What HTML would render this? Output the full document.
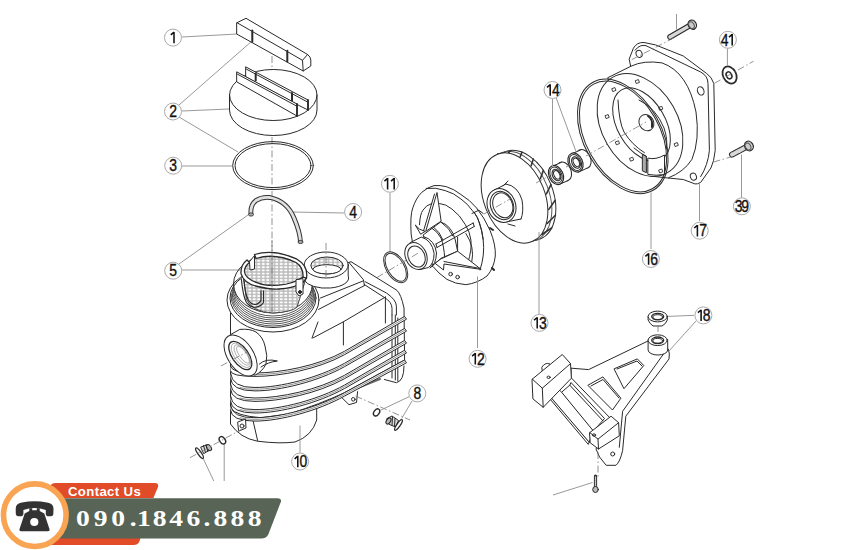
<!DOCTYPE html>
<html><head><meta charset="utf-8">
<style>
html,body{margin:0;padding:0;background:#fff;width:850px;height:550px;overflow:hidden;}
svg{position:absolute;left:0;top:0;}
.l{fill:none;stroke:#2a2a2a;stroke-width:1;stroke-linejoin:round;stroke-linecap:round;}
.t{fill:none;stroke:#999;stroke-width:1;}
.d{fill:none;stroke:#777;stroke-width:0.8;stroke-dasharray:7 2.5 1.5 2.5;}
.w{fill:#fff;stroke:#2a2a2a;stroke-width:1;stroke-linejoin:round;}
.b circle{fill:#fff;stroke:#aaa;stroke-width:1;}
.b .one{fill:none;stroke:#111;stroke-width:1.55;stroke-linecap:butt;stroke-linejoin:miter;}
.b text{font-family:"Liberation Sans",sans-serif;font-size:16px;fill:#111;stroke:#111;stroke-width:0.35;text-anchor:middle;}
#badge{position:absolute;left:0;top:0;}
</style></head>
<body>
<svg width="850" height="550" viewBox="0 0 850 550">
<!-- leaders -->
<g class="t">
  <path d="M182 37 L237 34"/>
  <path d="M179 105 L252 41"/>
  <path d="M182 111 L229 109"/>
  <path d="M179 117 L238 152"/>
  <path d="M182 166 L232 166"/>
  <path d="M344 213 L292 212"/>
  <path d="M179 264 L248 215"/>
  <path d="M182 270 L240 270"/>
  <path d="M390 193 L390 252"/>
</g>
<!-- axis lines -->
<g class="d">
  <path d="M272 56 L272 255"/>
</g>
<!-- part 1 bar -->
<g class="l">
  <path class="w" d="M237 22.7 L246 18.3 L307.6 54.5 Q310.8 57 310.8 60 L310.8 66 L303.2 71 L237 34.2 Z"/>
  <path d="M237 22.7 L302.5 60.3 L303.2 71 M302.5 60.3 L307.6 54.5"/>
  <path d="M252.3 30.4 L252.3 41.8 M287.3 50.7 L287.3 61.5" style="stroke-width:2"/>
</g>
<!-- part 2 cap -->
<g class="l">
  <path class="w" d="M229.5 95 L229.5 110 A43.7 25.5 0 0 0 317 110 L317 95 A43.7 25.5 0 0 0 229.5 95 Z"/>
  <path d="M229.5 95 A43.7 25.5 0 0 0 317 95"/>
  <path class="w" d="M246 67 L308 100 L308 110 L300 106 L246 77 Z"/>
  <path d="M246.5 69.2 L307.5 102"/>
  <path d="M255.7 73.5 L255.7 80.5 M292 93 L292 100.5" style="stroke-width:2"/>
  <path d="M308 100 L308 110" style="stroke-width:1.8"/>
  <path class="w" d="M237 72 L297 104 L297 116 L237 82 Z"/>
  <path d="M237.5 74.2 L296.5 106"/>
  <path d="M297 104 L297 116" style="stroke-width:1.8"/>
</g>
<!-- ring 3 -->
<g class="l">
  <ellipse cx="273" cy="165.6" rx="40.3" ry="24"/>
  <ellipse cx="273" cy="165.6" rx="38" ry="22"/>
</g>
<!-- hook 4 -->
<g>
  <path d="M251 214.5 Q250 205 256 200.5 Q262 196.5 270 197.5 Q287 201 294 218 Q300 232 300.5 242" style="fill:none;stroke:#333;stroke-width:4.8;stroke-linecap:butt"/>
  <path d="M251 214.5 Q250 205 256 200.5 Q262 196.5 270 197.5 Q287 201 294 218 Q300 232 300.5 242" style="fill:none;stroke:#e0e0e0;stroke-width:2.8;stroke-linecap:butt"/>
  <ellipse cx="251" cy="214.5" rx="2.5" ry="1.6" style="fill:#aaa;stroke:#333;stroke-width:0.9"/>
  <ellipse cx="300.5" cy="242" rx="2.5" ry="1.6" style="fill:#aaa;stroke:#333;stroke-width:0.9"/>
</g>
<!-- pump body 10 -->
<g class="l">
  <!-- skirt -->
  <path class="w" d="M230.5 400 L230.5 424 Q240 438 257.4 441.2 Q280 444 295 442 Q312 436 316.7 420 L316.7 400 Z"/>
  <path d="M250.6 410 L257.6 440.6"/>
  <!-- main body silhouette -->
  <path class="w" d="M230.5 300 L230.5 408 Q236 416 261 417.7 L289 414 Q320 404 344.5 392.7 L404.6 360 L404 308 Q401 294 396.9 290.3 L351 261.7 L304 278 Z"/>
  <!-- right lip -->
  <path d="M349 262.5 L363.5 279.8 L364.4 285.6"/>
  <path d="M365.4 281.8 L386.6 293.1 Q396.4 300 396.4 306.2 L396.4 315"/>
  <path d="M364.4 284.6 L384.4 297.5 Q392 302 392 308.4 L392 315"/>
  <path d="M392 315 L392 378 M395.3 315 L395.3 380 M397.8 318 L397.8 381"/>
  <!-- plateau -->
  <path d="M320.5 298 L363.5 280.8 M318.6 309.4 L364.4 285.6"/>
  <path d="M385.4 297 L343.4 321.8 L343.4 345 M343.4 321.8 L312.9 338 M385.4 297 L385.4 323"/>
  <path d="M318 322 L312 338"/>
  <!-- bottom foot & tab -->
  <path d="M404 366 Q404 381 396.4 382.7 L384.4 379.5"/>
  <path class="w" d="M340.2 396 L349 404.7 L356.5 402.5 L357.6 391.6"/>
  <circle cx="353.3" cy="399.3" r="1.8" class="l"/>
  <path d="M345 393 L380 379" style="stroke-width:2;stroke:#666"/>
  <!-- ribs -->
  <path class="w" d="M230.5 366 Q232 373.5 255 373 C280 373 318 366.0 344.5 351.3 L404.6 316.4 L406.5 319.19999999999993 L344.5 354.7 C318 369.4 280 376.4 255 376.4 Q231 376.4 230.5 371"/>
  <path d="M240 373.1 Q245 374.8 255 374.7 C280 374.7 318 367.7 344.5 353.0 L405 318.09999999999997" style="stroke:#666;stroke-width:0.7"/>
  <path class="w" d="M230.5 373 Q232 388.0 255 387.5 C280 387.5 318 378.0 344.5 363.3 L404.6 328.4 L406.5 331.19999999999993 L344.5 366.7 C318 381.4 280 390.9 255 390.9 Q231 390.9 230.5 378"/>
  <path d="M240 387.6 Q245 389.3 255 389.2 C280 389.2 318 379.7 344.5 365.0 L405 330.09999999999997" style="stroke:#666;stroke-width:0.7"/>
  <path class="w" d="M230.5 384 Q232 398.5 255 398 C280 398 318 390.0 344.5 375.3 L404.6 340.4 L406.5 343.19999999999993 L344.5 378.7 C318 393.4 280 401.4 255 401.4 Q231 401.4 230.5 389"/>
  <path d="M240 398.1 Q245 399.8 255 399.7 C280 399.7 318 391.7 344.5 377.0 L405 342.09999999999997" style="stroke:#666;stroke-width:0.7"/>
  <path class="w" d="M230.5 396 Q232 410.1 255 409.6 C280 409.6 318 399.8 344.5 385.1 L404.6 350.2 L406.5 352.99999999999994 L344.5 388.5 C318 403.2 280 413.0 255 413.0 Q231 413.0 230.5 401"/>
  <path d="M240 409.70000000000005 Q245 411.40000000000003 255 411.3 C280 411.3 318 401.5 344.5 386.8 L405 351.9" style="stroke:#666;stroke-width:0.7"/>
  <path class="w" d="M230.5 405 Q232 418.2 255 417.7 C280 417.7 318 407.4 344.5 392.7 L404.6 360 L406.5 362.79999999999995 L344.5 396.09999999999997 C318 410.79999999999995 280 421.09999999999997 255 421.09999999999997 Q231 421.09999999999997 230.5 410"/>
  <path d="M240 417.8 Q245 419.5 255 419.4 C280 419.4 318 409.09999999999997 344.5 394.4 L405 361.7" style="stroke:#666;stroke-width:0.7"/>
  <!-- neck -->
  <ellipse class="w" cx="273" cy="300" rx="46" ry="32"/>
  <ellipse cx="273" cy="298" rx="43" ry="29.5"/>
  <g style="stroke:#444;stroke-width:0.9">
  <path d="M231 296 A42 30 0 0 0 315 296"/>
  <path d="M231.5 294 A41.5 30 0 0 0 314.5 294"/>
  <path d="M232 292 A41 30 0 0 0 314 292"/>
  <path d="M232.5 290 A40.5 30 0 0 0 313.5 290"/>
  <path d="M233 288 A40 30 0 0 0 313 288"/>
  <path d="M233.5 286 A39.5 30 0 0 0 312.5 286"/>
  </g>
  <ellipse class="w" cx="273" cy="284" rx="39.5" ry="29" style="fill:none"/>
  <!-- outlet port -->

  <path class="w" d="M304.3 265 L304.3 280 A22 10 0 0 0 348.2 276 L348.2 265 Z"/>
  <ellipse class="w" cx="326.2" cy="265" rx="22" ry="13"/>
  <ellipse cx="327" cy="265.5" rx="16.2" ry="8.5" style="fill:url(#mesh)"/>
  <ellipse cx="327" cy="269.3" rx="14" ry="4.6" style="fill:#fff"/>
  <!-- inlet port -->
  <path class="w" d="M231.1 334.3 L239.8 329.4 Q250 328.5 256 332 Q263 337 265 346 Q268 356 266 364 Q262 372 255 375.2 L246 372 L236 340 Z"/>
  <ellipse class="w" cx="240.6" cy="355.5" rx="12.9" ry="23" transform="rotate(-33 240.6 355.5)"/>
  <ellipse cx="240.3" cy="355.5" rx="8.2" ry="16.3" transform="rotate(-35 240.3 355.5)" style="stroke-width:1.3"/>
  <g style="stroke:#999;stroke-width:0.7">
  <ellipse cx="241" cy="355.3" rx="6.6" ry="14.2" transform="rotate(-35 241 355.3)"/>
  <ellipse cx="242" cy="355" rx="5" ry="12" transform="rotate(-35 242 355)"/>
  <ellipse cx="243" cy="354.7" rx="3.6" ry="10" transform="rotate(-35 243 354.7)"/>
  </g>
  <path d="M259.4 364 Q266 358 277.4 361 Q268 362 261 367" />
  <!-- left drain boss -->
  <path class="w" d="M238 422 L245.5 419 L246 428 L239 431 Z"/>
  <circle cx="242" cy="426" r="2"/>
</g>
<!-- basket 5 -->
<defs>
<pattern id="mesh" width="4.5" height="3.2" patternUnits="userSpaceOnUse">
<rect width="4.5" height="3.2" fill="#bdbdbd"/>
<ellipse cx="2.25" cy="1.6" rx="1.7" ry="1.05" fill="#fff"/>
</pattern>
</defs>
<g class="l">
  <path d="M243 272 L246.3 299 Q252 312 273 313 Q292 312 297 307.2 L305.2 281 L306 277.7 Q300 256 274 252.4 Q250 254 243 272 Z" style="fill:url(#mesh);stroke:#444"/>
  <path d="M272 256 L272 313" style="stroke:#888;stroke-width:0.8"/>
  <path d="M254.5 254.5 Q274 248.5 297 259.2 Q308.5 266 306.5 278 L302.5 281.5 Q305 268 296 262.5 Q275 252.5 256 258.5 Z" class="w" style="stroke-width:1.3"/>
  <path d="M247 260 Q240.5 265 241 273.6 Q244 283.5 257.7 286.5 Q270 289.5 279 289 Q293 288.5 303 282.5 L306.5 278 L303 277 Q293 284 279 285.2 Q265 286 257.7 282.8 Q245.5 279 244.5 272 Q244.3 266 249.5 262.5 Z" class="w" style="stroke-width:1.3"/>
  <path class="w" d="M249.5 262 L250 270 L254.5 269 L254.5 256 Z" style="fill:#fff"/>
  <path d="M241.4 279.4 Q243 296 246.3 302.3 Q251 308 256 307.2 Q262 306 263.5 302.3 L263.5 290.8" style="stroke-width:1.1"/>
  <path d="M243.8 279.4 Q245 294 248.5 300.3 Q251.5 305 256 304.5 Q260 303 261 300.3 L261 290.8" style="stroke-width:1.1"/>
  <path class="w" d="M296 280 L296 292 L299 296 L303 294 L303 279 Z"/>
  <circle cx="300" cy="292" r="1.5" style="fill:#222"/>
</g>
<!-- o-ring 11 -->
<g class="l" style="stroke:#333">
  <ellipse cx="395.7" cy="267.3" rx="9.7" ry="17" transform="rotate(-30.7 395.7 267.3)"/>
  <ellipse cx="395.7" cy="267.3" rx="8.3" ry="15.5" transform="rotate(-30.7 395.7 267.3)"/>
</g>
<!-- diffuser 12 -->
<g class="l">
  <path class="w" d="M411.1 233.6 Q410 215 412.8 207.9 Q416 198 421.8 192.3 Q428 187 434 185.6 Q440 185 446.4 186.7 Q454 189 460.9 194.5 Q470 200 476.5 207.9 Q484 217 490 230.3 Q496 245 495.3 256 Q494 268 487 276 Q478 283 465.9 284.7 Q455 284 447 279.4 Q438 273 433 266.5 L416 262 Z"/>
  <path d="M426.2 188.4 Q436 187 445.2 190.6 Q454 193 460.9 199 Q468 204 472 210.2 Q478 217 478.8 221.4 Q482 230 483.2 240 Q485 255 480 270"/>
  <path d="M474.3 212.4 Q481 222 483.2 239.2"/>
  <path d="M472 213.5 L478.8 210.2 L483.2 213.5"/>
  <path d="M465.9 233.5 Q475 247 471.8 261.8"/>
  <path d="M419.5 224.7 Q420 214 422.9 210.2 Q426 205 431.8 203.5 M439.6 203.5 Q446 204 451.9 209 Q460 215 465.4 224.7 Q470 232 470.9 240 Q472 250 468 262"/>
  <!-- top vane -->
  <path class="w" d="M436.9 192.9 L425.7 231.4 L440.8 221.4 Z"/>
  <path d="M434.5 194 L423.5 231"/>
  <path class="w" d="M415.6 225.3 L419.5 229.2 L425.1 231.4 L421 234 Z"/>
  <!-- cone -->
  <path class="w" d="M423.5 234.7 L440.8 221.9 Q452 226 455.3 240 L457.6 251.2 L441.2 258.2 L433 265.3 Z"/>
  <path d="M431.8 228.1 Q437.4 231.4 441 238 Q444 246 444.7 258"/>
  <path d="M433.5 227 Q440 232 443 240"/>
  <path d="M440.8 221.9 Q449.7 228.1 453 236"/>
  <path d="M457.6 237.1 L457.6 251.2"/>
  <!-- pin -->
  <path d="M436 244 L473.2 223 M437 247.5 L474.2 226.5" />
  <path d="M473.2 223 L474.2 226.5 M436 244 L437 247.5"/>
  <!-- lower vane -->
  <path class="w" d="M441.2 258.8 L457.6 251.2 L481.2 269.4 L444 264 L443.5 270 L435.3 263.5 Z"/>
  <path d="M444 261.5 L480 268.5"/>
  <!-- nozzle -->
  <path class="w" d="M410.6 242.4 L421.2 237.1 Q432 240 434.1 253.5 Q434 264 428.2 267.6 L420.6 269.4 Z"/>
  <path d="M423.5 236.5 Q435 240 436.5 253 Q436 265 430 268"/>
  <ellipse class="w" cx="416" cy="256" rx="10.5" ry="14" transform="rotate(-25 416 256)"/>
  <ellipse cx="416.5" cy="256.5" rx="8.2" ry="11" transform="rotate(-25 416.5 256.5)"/>
  <circle cx="450.6" cy="274.1" r="1.8"/><circle cx="457.6" cy="277.1" r="1.8"/>
  <path d="M484 197 L486 199 M492 268 L494 270 M490 228 L493 230" style="stroke-width:2"/>
</g>
<!-- impeller 13 -->
<g class="l">
  <ellipse class="w" cx="522.5" cy="195.5" rx="30.5" ry="47" transform="rotate(-22 522.5 195.5)"/>
  <ellipse cx="518.5" cy="196.5" rx="30.5" ry="47" transform="rotate(-22 518.5 196.5)" style="stroke:#555"/>
  <path d="M489.3 160.5 L493.3 163.0 M497.9 153.9 L500.6 154.3 M508.6 152.6 L510.5 150.6 M520.2 156.8 L521.9 152.2 M531.2 165.8 L533.3 159.1 M540.3 178.7 L543.4 170.4 M546.4 193.8 L551.0 184.7 M548.8 209.4 L555.2 200.3 M547.2 223.5 L555.4 215.3 M541.7 234.5 L551.7 228.0 " style="stroke-width:1.6;stroke:#333"/>
  <ellipse class="w" cx="514.5" cy="198" rx="30.5" ry="47" transform="rotate(-22 514.5 198)"/>
  <path class="w" d="M493 190.8 L506 184 Q521 188 523 207 L521 219 L506 222 Z" style="stroke:none"/>
  <path d="M493 190.8 L506 184 M521 219 L506 222"/>
  <path d="M506 184 Q518 186 522 200 Q524 212 521 219"/>
  <path d="M503 186 L508 181" />
  <path d="M508 224 L515 226" />
  <ellipse class="w" cx="501.5" cy="205.5" rx="14" ry="17.3" transform="rotate(-22 501.5 205.5)"/>
  <ellipse cx="502" cy="205.5" rx="11.3" ry="14.5" transform="rotate(-22 502 205.5)"/>
  <ellipse cx="502.8" cy="205.3" rx="9.6" ry="12.8" transform="rotate(-22 502.8 205.3)"/>
</g>
<!-- bearings 14 -->
<g class="l">
  <ellipse class="w" cx="564" cy="171.5" rx="7" ry="10" transform="rotate(-25 564 171.5)"/>
  <path class="w" d="M553.5 165.8 L561.5 162.3 L567 181.0 L559 184.5 Z" style="stroke:none"/>
  <path d="M553.5 165.8 L561.5 162.3 M559 184.5 L567 181.0"/>
  <ellipse class="w" cx="556" cy="175" rx="7" ry="10" transform="rotate(-25 556 175)" style="stroke-width:1.2"/>
  <ellipse cx="556" cy="175" rx="5.6" ry="8.4" transform="rotate(-25 556 175)"/>
  <ellipse cx="556.5" cy="175" rx="4" ry="6" transform="rotate(-25 556.5 175)" style="stroke-width:1.1"/>
  <ellipse cx="556.8" cy="174.8" rx="2.8" ry="4.5" transform="rotate(-25 556.8 174.8)"/>
  <ellipse class="w" cx="583.5" cy="159.0" rx="7" ry="10" transform="rotate(-25 583.5 159.0)"/>
  <path class="w" d="M573.0 153.3 L581.0 149.8 L586.5 168.5 L578.5 172.0 Z" style="stroke:none"/>
  <path d="M573.0 153.3 L581.0 149.8 M578.5 172.0 L586.5 168.5"/>
  <ellipse class="w" cx="575.5" cy="162.5" rx="7" ry="10" transform="rotate(-25 575.5 162.5)" style="stroke-width:1.2"/>
  <ellipse cx="575.5" cy="162.5" rx="5.6" ry="8.4" transform="rotate(-25 575.5 162.5)"/>
  <ellipse cx="576.0" cy="162.5" rx="4" ry="6" transform="rotate(-25 576.0 162.5)" style="stroke-width:1.1"/>
  <ellipse cx="576.3" cy="162.3" rx="2.8" ry="4.5" transform="rotate(-25 576.3 162.3)"/>
</g>
<!-- flange 17 -->
<g class="l">
  <path class="w" d="M629.3 58.8 L633.4 48.2 Q637 42 644 42.5 L655.5 44.9 L683.3 56 L706.5 73.4 Q712 77 713.8 83.6 L715.2 150.5 Q714 162 710.9 168 L700.7 182.4 Q697 184.5 694.9 183.9 L683.3 179.5 L668 178 L640 110 Z"/>
  <path d="M635 50.2 Q640 44 646 45.7 L700.7 72 Q708 76 708 83.6 L709.4 150.5 Q708 165 700.7 176.6"/>
  <ellipse cx="639.1" cy="53.9" rx="3" ry="3.6" transform="rotate(-20 639.1 53.9)"/>
  <ellipse cx="700.7" cy="90.9" rx="3.2" ry="4.3" transform="rotate(-20 700.7 90.9)"/>
  <ellipse cx="693.4" cy="176.6" rx="3" ry="3.6" transform="rotate(-20 693.4 176.6)"/>
  <!-- housing cylinder -->
  <path class="w" d="M608 77.6 L631 66.2 Q644 60 662 62.9 Q688 72 696 112 Q700 140 692 159.2 Q684 172 668 178 L650 176 Z" />
  <ellipse class="w" cx="640" cy="125" rx="38" ry="55" transform="rotate(-30 640 125)"/>
  <ellipse cx="641.5" cy="124.5" rx="24" ry="40" transform="rotate(-30 641.5 124.5)"/>
  <path d="M618 100 Q619 122 624 132 Q632 145 644.5 152.7"/>
  <path d="M639 100 Q656 108 664 128 Q668 140 666.4 149"/>
  <ellipse class="w" cx="646.4" cy="122.7" rx="7.2" ry="8.4" transform="rotate(-30 646.4 122.7)"/>
  <path d="M648 116 Q653 119 652 127" style="stroke-width:2"/>
  <path class="w" d="M642.7 154.5 L646.4 156.4 L646.4 172.7 L642.7 171 Z" style="fill:#aaa"/>
  <path class="w" d="M648.2 158.2 Q656 160 664.5 155 L664.5 174.5 Q656 176 648.2 174.5 Z"/>
  <path d="M646.4 156.4 Q640 153 634 148"/>
  <g style="stroke-width:0.8">
  <rect x="605.8" y="115" width="3" height="3" transform="rotate(-20 607.3 116.5)"/>
  <rect x="616.1" y="141.2" width="3" height="3" transform="rotate(-20 617.6 142.7)"/>
  <rect x="630.3" y="157.6" width="3" height="3" transform="rotate(-20 631.8 159.1)"/>
  <rect x="659.4" y="169.4" width="3" height="3" transform="rotate(-20 660.9 170.9)"/>
  <rect x="674.9" y="143" width="3" height="3" transform="rotate(-20 676.4 144.5)"/>
  <rect x="659.4" y="106.7" width="3" height="3" transform="rotate(-20 660.9 108.2)"/>
  <rect x="612.5" y="88" width="3" height="3" transform="rotate(-20 614 89.5)"/>
  <rect x="636" y="80" width="3" height="3" transform="rotate(-20 637.5 81.5)"/>
  </g>
</g>
</g>
<!-- o-ring 16 -->
<g class="l">
  <ellipse cx="622.8" cy="136.4" rx="38.7" ry="61.8" transform="rotate(-29.3 622.8 136.4)"/>
  <ellipse cx="623" cy="136.4" rx="36.9" ry="60" transform="rotate(-29.3 623 136.4)"/>
</g>
<!-- bolts 39, washer 41 -->
<g class="l">
  <path d="M670 37 L689 26" style="stroke:#2a2a2a;stroke-width:5.5;stroke-linecap:round"/>
  <path d="M670 37 L689 26" style="stroke:#d8d8d8;stroke-width:3.5;stroke-linecap:round;stroke-dasharray:1 1"/>
  <ellipse class="w" cx="692.3" cy="24.7" rx="4" ry="4.8" transform="rotate(-30 692.3 24.7)" style="fill:#ccc;stroke-width:1.2"/>
  <ellipse cx="691.5" cy="25.2" rx="2.5" ry="3.5" transform="rotate(-30 691.5 25.2)" style="stroke:#555"/>
  <ellipse cx="729.6" cy="75" rx="6.5" ry="9" transform="rotate(-28 729.6 75)" style="stroke-width:1.8;fill:#fff"/>
  <ellipse cx="729" cy="75.3" rx="2.6" ry="3.6" transform="rotate(-28 729 75.3)" style="stroke-width:1.6"/>
  <path d="M732 154.6 L746 147.2" style="stroke:#2a2a2a;stroke-width:6;stroke-linecap:round"/>
  <path d="M732 154.6 L746 147.2" style="stroke:#d8d8d8;stroke-width:4;stroke-linecap:round;stroke-dasharray:1 1"/>
  <ellipse class="w" cx="748.9" cy="146" rx="4.2" ry="5" transform="rotate(-30 748.9 146)" style="fill:#ccc;stroke-width:1.2"/>
  <ellipse cx="748" cy="146.5" rx="2.6" ry="3.6" transform="rotate(-30 748 146.5)" style="stroke:#555"/>
</g>
<!-- bracket 18 -->
<g class="l">
  <!-- plate -->
  <path class="w" d="M571.4 368.2 L588.6 369.6 L648 341 L668.4 349.1 Q670 354 669 359 L625.8 416.2 L622.6 450.6 Q620 462 616 465.3 L606.2 465.3 L599.6 457.1 L596 449 L612 420 L571.4 378 Z"/>
  <path d="M663.5 354 L622.6 411.3 L619.3 447.3"/>
  <path class="w" d="M588.2 385.1 L602.9 376.9 L620.9 398.2 L612.7 409.7 Z"/>
  <path d="M591 386 L603 379.5 L619 398"/>
  <path class="w" d="M614.4 368.7 L637.3 358.9 L643.8 365.5 L624.2 388.4 Z"/>
  <path d="M617 369 L637 361 L642 366"/>
  <circle cx="612.7" cy="454" r="2"/>
  <!-- rails -->
  <path class="w" d="M561.6 392.2 L569.8 385.2 L571 382.5 L604.5 418.5 L593.4 431 Z"/>
  <path d="M569.8 385.2 L603 420.9"/>
  <path class="w" d="M550.1 396.7 L558.4 389 L561.6 392.2 L593.4 431 L589 442.5 Z"/>
  <path class="w" d="M550.1 396.7 L550.7 399.8 L588.3 444.4 L589 442.5 Z"/>
  <!-- left block -->
  <path class="w" d="M542 367 Q545 362 550 364 L550 372 L543 374 Z"/>
  <path class="w" d="M532.3 379.1 L562.3 354.5 L570.5 363.6 L571.4 378.2 L543.2 407.3 L533.2 399.1 Z"/>
  <path d="M532.3 379.1 L542.3 388.2 L570.5 363.6 M542.3 388.2 L543.2 407.3"/>
  <ellipse cx="548.6" cy="377.3" rx="1.6" ry="1.2"/>
  <!-- right block -->
  <path class="w" d="M589.8 432.6 L611.1 416.2 L618.6 422.7 L619.3 435.8 L598.5 449 L590.5 443 Z"/>
  <path d="M589.8 432.6 L598 439.1 L618.6 422.7 M598 439.1 L598.5 449"/>
  <ellipse cx="594" cy="435" rx="1.6" ry="1.2"/>
  <!-- boss + grommet -->
  <path class="w" d="M648.1 340 L648.1 350 A9.8 5 0 0 0 667.7 350 L667.7 340 Z"/>
  <ellipse class="w" cx="657.7" cy="340.2" rx="9.6" ry="5.4"/>
  <ellipse cx="657.7" cy="340.3" rx="6" ry="3.3" style="stroke-width:1.3"/>
  <ellipse cx="657.7" cy="340.8" rx="4.8" ry="2.4"/>
  <path class="w" d="M648.1 316.5 L648.1 320 Q650 324 653 326 L662 326 Q666 324 667.3 320 L667.3 316.5 Z"/>
  <ellipse class="w" cx="657.7" cy="316.5" rx="9.6" ry="5.4"/>
  <ellipse cx="657.7" cy="316.6" rx="6" ry="3.3" style="stroke-width:1.3"/>
  <ellipse cx="657.7" cy="317.1" rx="4.8" ry="2.4"/>
  <!-- screw -->
  <path d="M595.5 476 L595.5 487" style="stroke:#2a2a2a;stroke-width:3.2;stroke-linecap:round"/>
  <path d="M595.5 477 L595.5 487" style="stroke:#ccc;stroke-width:1.4;stroke-dasharray:1 1"/>
  <ellipse class="w" cx="595.5" cy="489.5" rx="2.8" ry="3" style="fill:#bbb"/>
</g>
<!-- drain plugs 8 -->
<g class="l">
  <ellipse cx="376.6" cy="412.4" rx="2.6" ry="3.9" transform="rotate(35 376.6 412.4)" style="stroke-width:1.4"/>
  <path class="w" d="M387 418.5 L392 416 L398.5 420.5 L395.5 427 L389.5 424.5 Z" style="fill:#ddd"/>
  <ellipse cx="388.5" cy="421" rx="2" ry="3.4" transform="rotate(35 388.5 421)" style="fill:#bbb"/>
  <path d="M392.5 417 L392 425.5 M395 418.5 L394.5 426.5"/>
  <ellipse class="w" cx="398.5" cy="425" rx="1.7" ry="6.3" transform="rotate(35 398.5 425)" style="stroke-width:1.3"/>
  <ellipse cx="222.4" cy="440.3" rx="2.7" ry="4" transform="rotate(-35 222.4 440.3)" style="stroke-width:1.4"/>
  <path class="w" d="M201 447 L207.5 444.6 L210.5 449.5 L204 453.5 Z" style="fill:#ddd"/>
  <ellipse cx="209" cy="447.6" rx="2" ry="3.4" transform="rotate(-35 209 447.6)" style="fill:#bbb"/>
  <path d="M203.5 445.5 L205.5 452.5 M206 444.8 L207.8 451.5"/>
  <ellipse class="w" cx="199.5" cy="453.2" rx="1.7" ry="6.3" transform="rotate(-35 199.5 453.2)" style="stroke-width:1.3"/>
</g>
<!-- main axis -->
<g class="d">
  <path d="M377 277.5 L420 252"/>
  <path d="M484 214 L510 199"/>
  <path d="M536 183 L549 176 M566 167 L569 165.5 M586 156 L646 122"/>
  <path d="M631.7 59.7 L673.8 37.9"/>
  <path d="M714.4 83.3 L753.6 61.2"/>
  <path d="M713.5 162 L730.7 157"/>
  <path d="M190 457.7 L241 429.7"/>
  <path d="M355.5 396 L410 420"/>
  <path d="M221 366 L247 352"/>
  <path d="M326 243 L326 277"/>
  <path d="M272 240 L272 312"/>
  <path d="M658 325 L658 334"/>
  <path d="M598 452 L598 477"/>
</g>
<!-- more leaders -->
<g class="t">
  <path d="M477.5 276.5 L477.5 348"/>
  <path d="M539 232 L539 314"/>
  <path d="M552.5 98.5 L552.5 166 M556 97.5 L576 151.5"/>
  <path d="M651 249 L651 192.5"/>
  <path d="M699.5 221 L699.5 183.3"/>
  <path d="M727.4 48.5 L727.4 65.2"/>
  <path d="M741.5 198 L741.5 154.6"/>
  <path d="M694 315.3 L668 316.4 M696 321 L669 351"/>
  <path d="M553 495 L592.5 482.5"/>
  <path d="M300 452.5 L300 425.5"/>
  <path d="M224.2 445 L224.2 481 M203.5 459.2 L213.8 481"/>
  <path d="M409.5 396.5 L380.6 410.2 M412 401 L401.7 418.5"/>
  <path d="M676.5 14 L676.5 29.6"/>
</g>
<!-- balloons -->
<g class="b">
  <circle cx="173" cy="37.6" r="8.5"/>
  <path class="one" d="M174.0 31.9 L174.0 43.3 M174.0 32.2 L170.8 34.9"/>
  <circle cx="173" cy="111.5" r="8.5"/>
  <text transform="translate(173.0 117.2) scale(0.87 1)">2</text>
  <circle cx="173.2" cy="165.7" r="8.5"/>
  <text transform="translate(173.2 171.4) scale(0.87 1)">3</text>
  <circle cx="353.1" cy="212" r="8.5"/>
  <text transform="translate(353.1 217.8) scale(0.87 1)">4</text>
  <circle cx="173.2" cy="270.7" r="8.5"/>
  <text transform="translate(173.2 276.4) scale(0.87 1)">5</text>
  <circle cx="417.3" cy="393.4" r="8.5"/>
  <text transform="translate(417.3 399.1) scale(0.87 1)">8</text>
  <circle cx="300.1" cy="461.5" r="8.5"/>
  <path class="one" d="M297.8 455.8 L297.8 467.2 M297.8 456.1 L294.6 458.8"/>
  <text transform="translate(303.4 467.2) scale(0.87 1)">0</text>
  <circle cx="389.9" cy="183.8" r="8.5"/>
  <path class="one" d="M387.6 178.1 L387.6 189.5 M387.6 178.4 L384.4 181.1"/>
  <path class="one" d="M394.2 178.1 L394.2 189.5 M394.2 178.4 L391.0 181.1"/>
  <circle cx="477.6" cy="358.8" r="8.5"/>
  <path class="one" d="M475.3 353.1 L475.3 364.5 M475.3 353.4 L472.1 356.1"/>
  <text transform="translate(480.9 364.6) scale(0.87 1)">2</text>
  <circle cx="539.5" cy="322.9" r="8.5"/>
  <path class="one" d="M537.2 317.2 L537.2 328.6 M537.2 317.5 L534.0 320.2"/>
  <text transform="translate(542.8 328.6) scale(0.87 1)">3</text>
  <circle cx="552.5" cy="90" r="8.5"/>
  <path class="one" d="M550.2 84.3 L550.2 95.7 M550.2 84.6 L547.0 87.3"/>
  <text transform="translate(555.8 95.8) scale(0.87 1)">4</text>
  <circle cx="650.9" cy="259" r="8.5"/>
  <path class="one" d="M648.6 253.3 L648.6 264.7 M648.6 253.6 L645.4 256.3"/>
  <text transform="translate(654.2 264.8) scale(0.87 1)">6</text>
  <circle cx="699.7" cy="230.7" r="8.5"/>
  <path class="one" d="M697.4 225.0 L697.4 236.4 M697.4 225.3 L694.2 228.0"/>
  <text transform="translate(703.0 236.4) scale(0.87 1)">7</text>
  <circle cx="703.4" cy="315.4" r="8.5"/>
  <path class="one" d="M701.1 309.7 L701.1 321.1 M701.1 310.0 L697.9 312.7"/>
  <text transform="translate(706.7 321.1) scale(0.87 1)">8</text>
  <circle cx="741.9" cy="206.3" r="8.5"/>
  <text transform="translate(738.6 212.1) scale(0.87 1)">3</text>
  <text transform="translate(745.2 212.1) scale(0.87 1)">9</text>
  <circle cx="727.9" cy="39.8" r="8.5"/>
  <text transform="translate(724.6 45.5) scale(0.87 1)">4</text>
  <path class="one" d="M732.2 34.1 L732.2 45.5 M732.2 34.4 L729.0 37.1"/>
</g>
</svg>
<svg id="badge" width="850" height="550" viewBox="0 0 850 550">
  <path d="M50 545 L50 488 Q50 483 56 483 L155 483 Q159 483 158 487 L153.4 498 L60 498 L60 545 Z" fill="#E14B27"/>
  <path d="M45 544.9 L45 530 L137 530 Q141 531 140.5 537 Q140 544.9 134 544.9 Z" fill="#E14B27"/>
  <path d="M55 498.3 L277.5 498.3 Q282 498.5 280.8 502 L268.5 534 Q266.5 538.6 261 538.6 L55 538.6 Z" fill="#576456"/>
  <circle cx="34.8" cy="515.2" r="31.3" fill="#fff" stroke="#F9A453" stroke-width="5.6"/>
  <g fill="#333">
    <path d="M15.7 509 Q15.5 503.5 22 502.5 Q34.5 499.8 47 502.5 Q53.7 503.5 53.5 509 L53.3 514.5 Q53 516.2 51 516.2 L47.5 516.2 Q45.8 516 45.8 514 L45.8 510 Q34.5 506 23.4 510 L23.4 514 Q23.3 516 21.5 516.2 L18 516.2 Q15.9 516 15.8 514 Z"/>
    <path d="M29.3 508.3 L32.2 508.3 L32.2 510.3 L36.8 510.3 L36.8 508.3 L39.7 508.3 L39.7 511 Q42 512 44.3 513.5 L49.6 529.5 Q50 531.2 48 531.2 L21 531.2 Q19 531.2 19.4 529.5 L24.7 513.5 Q27 512 29.3 511 Z"/>
  </g>
  <circle cx="34.3" cy="522" r="4.1" fill="#fff"/>
  <text x="68" y="496.1" font-family="Liberation Sans, sans-serif" font-weight="bold" font-size="13.2" fill="#fff" letter-spacing="0.35">Contact Us</text>
  <g transform="scale(1.15 1)"><text x="72.04 87.48 102.83 115.87 125.04 138.87 153.22 168.26 180.00 191.57 206.39 221.48" y="526.3" text-anchor="middle" font-family="Liberation Serif, serif" font-weight="bold" font-size="24" fill="#fff">090.1846.888</text></g>
</svg>
</body></html>
